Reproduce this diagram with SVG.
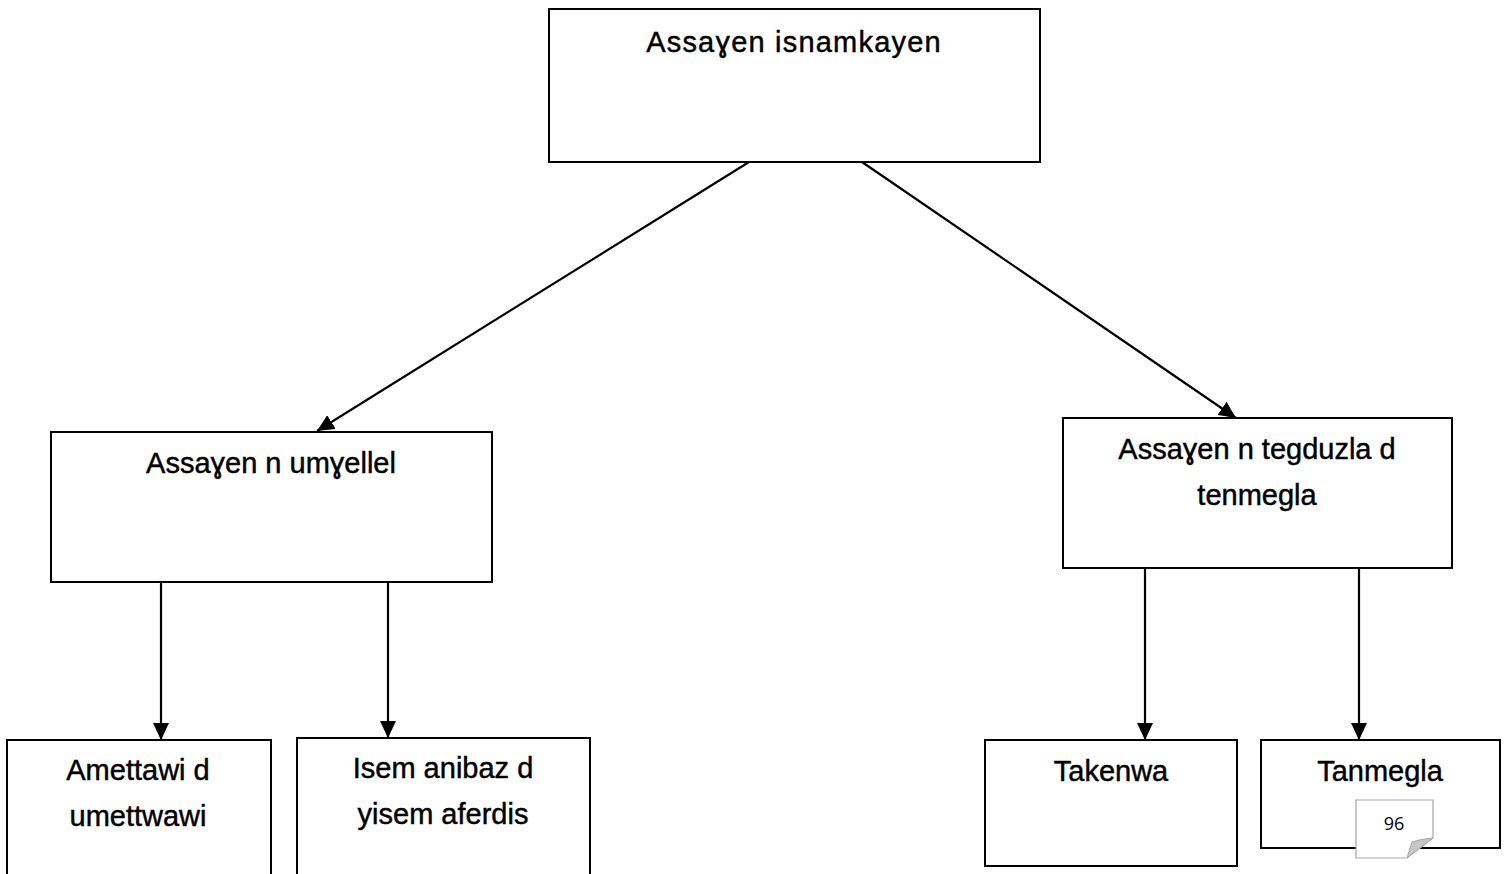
<svg xmlns="http://www.w3.org/2000/svg" width="1508" height="874" viewBox="0 0 1508 874">
<style>
.box{fill:#fff;stroke:#000;stroke-width:2}
.lbl{font-family:"Liberation Sans","DejaVu Sans",Arial,sans-serif;font-size:29px;fill:#000;stroke:#000;stroke-width:0.45;text-anchor:middle}
.conn{stroke:#000;stroke-width:2.2;fill:none;marker-end:url(#arr)}
.pg{font-family:"Open Sans","Liberation Sans",sans-serif;font-size:18px;fill:#000;text-anchor:middle}
</style>
<defs>
<marker id="arr" markerUnits="userSpaceOnUse" markerWidth="18" markerHeight="16" refX="17" refY="8" orient="auto">
<path d="M0,0 L17,8 L0,16 Z" fill="#000"/>
</marker>
</defs>
<rect width="1508" height="874" fill="#fff"/>
<g id="connectors">
<line class="conn" x1="749" y1="162" x2="317" y2="431"/>
<line class="conn" x1="862" y1="162" x2="1236" y2="418"/>
<line class="conn" x1="161" y1="582" x2="161" y2="740"/>
<line class="conn" x1="388" y1="582" x2="388" y2="738"/>
<line class="conn" x1="1145" y1="568" x2="1145" y2="740"/>
<line class="conn" x1="1359" y1="568" x2="1359" y2="740"/>
</g>
<g id="root">
<rect class="box" x="549" y="9" width="491" height="153"/>
<text class="lbl" x="794" y="52" style="letter-spacing:1.2px">Assaɣen isnamkayen</text>
</g>
<g id="umyellel">
<rect class="box" x="51" y="432" width="441" height="150"/>
<text class="lbl" x="271" y="473">Assaɣen n umɣellel</text>
</g>
<g id="tegduzla">
<rect class="box" x="1063" y="418" width="389" height="150"/>
<text class="lbl" x="1257" y="459">Assaɣen n tegduzla d</text>
<text class="lbl" x="1257" y="505">tenmegla</text>
</g>
<g id="amettawi">
<rect class="box" x="7" y="740" width="264" height="145"/>
<text class="lbl" x="138" y="780">Amettawi d</text>
<text class="lbl" x="138" y="826">umettwawi</text>
</g>
<g id="isem">
<rect class="box" x="297" y="738" width="293" height="147"/>
<text class="lbl" x="443" y="778">Isem anibaz d</text>
<text class="lbl" x="443" y="824">yisem aferdis</text>
</g>
<g id="takenwa">
<rect class="box" x="985" y="740" width="252" height="126"/>
<text class="lbl" x="1111" y="781">Takenwa</text>
</g>
<g id="tanmegla">
<rect class="box" x="1261" y="740" width="239" height="108"/>
<text class="lbl" x="1380" y="781">Tanmegla</text>
</g>
<g id="page-number">
<path d="M1356,800 H1433 V838 L1407,858 H1356 Z" fill="#fff" stroke="#a6a6a6" stroke-width="1.2"/>
<path d="M1407,858 L1433,838 Q1420,839 1412,842 Z" fill="#c6c6c6" stroke="#a6a6a6" stroke-width="1"/>
<text class="pg" x="1394" y="830">96</text>
</g>
</svg>
